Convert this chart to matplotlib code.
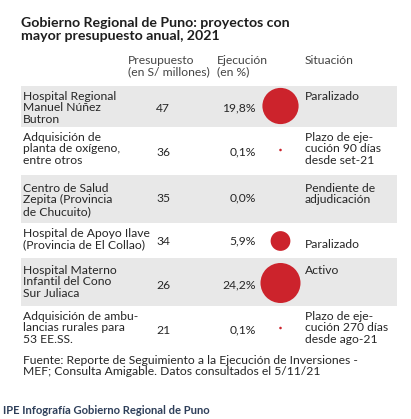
import numpy as np
import matplotlib.pyplot as plt

# datos
proyectos = ["Hospital Regional\nManuel Núñez\nButron",
             "Adquisición de\nplanta de oxígeno,\nentre otros",
             "Centro de Salud\nZepita (Provincia\nde Chucuito)",
             "Hospital de Apoyo Ilave\n(Provincia de El Collao)",
             "Hospital Materno\nInfantil del Cono\nSur Juliaca",
             "Adquisición de ambu-\nlancias rurales para\n53 EE.SS."]
presupuesto = [47, 36, 35, 34, 26, 21]
ejecucion = [19.8, 0.1, 0.0, 5.9, 24.2, 0.1]
situacion = ["Paralizado",
             "Plazo de eje-\ncución 90 días\ndesde set-21",
             "Pendiente de\nadjudicación",
             "\nParalizado",
             "Activo",
             "Plazo de eje-\ncución 270 días\ndesde ago-21"]

# layout (pixeles)
bordes = [86, 127, 175, 223, 258, 306, 352]
y_top = [91, 132, 183, 228, 265, 311]
y_num = [108, 152, 198, 241, 285, 330]
y_dot = [106, 150, 197, 241, 283, 328]

FONT = 'Lato'
TXT = '#262626'
RED = '#cc232c'

fig = plt.figure(figsize=(4.11, 4.19), dpi=100)
ax = fig.add_axes([0, 0, 1, 1])
ax.set_xlim(0, 411); ax.set_ylim(419, 0); ax.axis('off')

# titulo
ax.text(21, 17, "Gobierno Regional de Puno: proyectos con\nmayor presupuesto anual, 2021",
        fontsize=10.2, fontweight='bold', family=FONT, color='#1e1e1e', va='top', linespacing=1.15)

# cabeceras
kw_h = dict(fontsize=8.7, family=FONT, color='#444444', va='top', linespacing=1.05)
ax.text(128, 55, "Presupuesto\n(en S/ millones)", **kw_h)
ax.text(217, 55, "Ejecución\n(en %)", **kw_h)
ax.text(305, 55, "Situación", **kw_h)

# bandas grises
for i in range(0, len(proyectos), 2):
    ax.axhspan(bordes[i + 1], bordes[i], xmin=21/411, xmax=397/411, color='#e8e8e8', lw=0, zorder=0)

kw = dict(fontsize=8.7, family=FONT, color=TXT, linespacing=1.05)
for i in range(len(proyectos)):
    ax.text(23, y_top[i], proyectos[i], va='top', **kw)
    ax.text(163, y_num[i], str(presupuesto[i]), va='center', ha='center', **kw)
    ax.text(256, y_num[i], f"{ejecucion[i]:.1f}%".replace('.', ','), va='center', ha='right', **kw)
    ax.text(305, y_top[i], situacion[i], va='top', **kw)

s = [34.3 * v for v in ejecucion]
ax.scatter([280.5] * len(ejecucion), y_dot, s=s, color=RED, linewidths=0, zorder=3)

# fuente
ax.text(23, 355, "Fuente: Reporte de Seguimiento a la Ejecución de Inversiones -\nMEF; Consulta Amigable. Datos consultados el 5/11/21",
        va='top', **kw)

ax.text(3, 410, "IPE Infografía Gobierno Regional de Puno", fontsize=8.1, fontweight='bold',
        family=FONT, color='#2e3f5a', va='center')

fig.savefig('out.png', dpi=100)
